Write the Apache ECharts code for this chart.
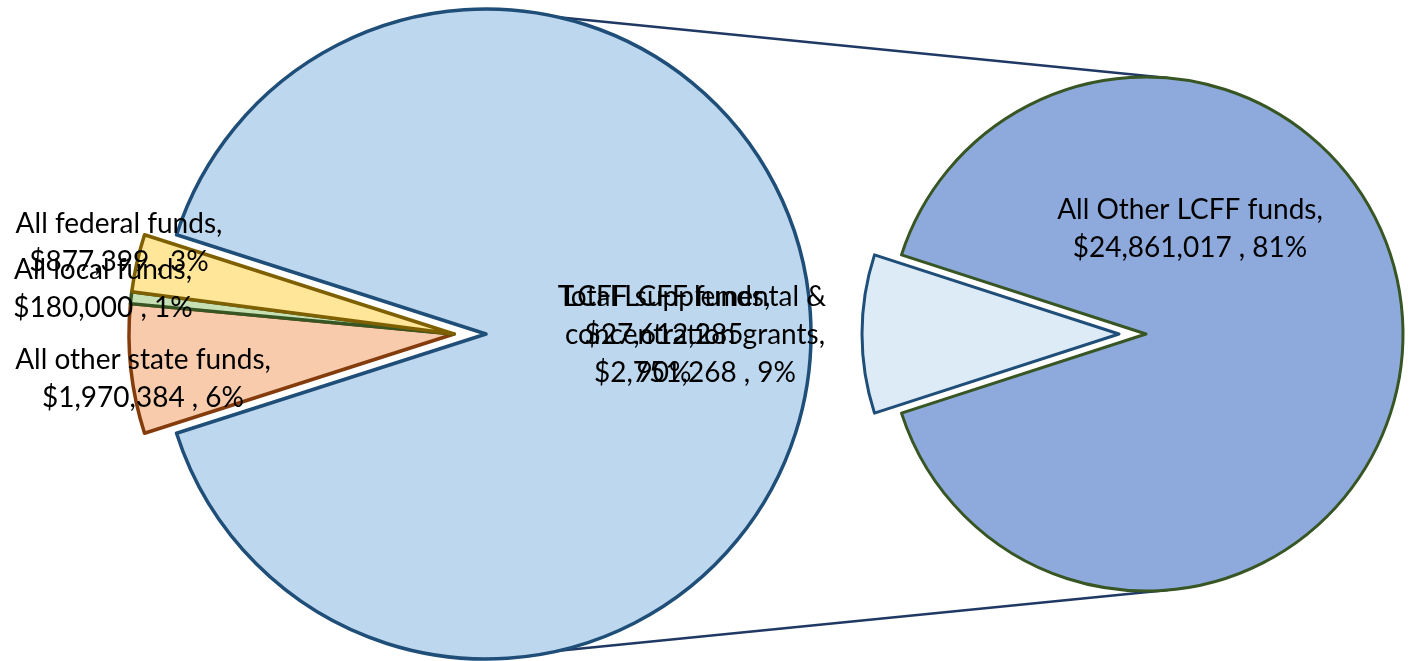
<!DOCTYPE html>
<html>
<head>
<meta charset="utf-8">
<script src="https://cdn.jsdelivr.net/npm/echarts@6/dist/echarts.min.js"></script>
<style>
html,body{margin:0;padding:0;background:#fff;}
#chart{width:1410px;height:661px;}
</style>
</head>
<body>
<div id="chart"></div>
<script>
// ---- data ----
const mainNames = ['Total LCFF funds', 'All other state funds', 'All local funds', 'All federal funds'];
const mainValues = [27612285, 1970384, 180000, 877399];
const splitNames = ['All Other LCFF funds', 'LCFF supplemental & concentration grants'];
const splitValues = [24861017, 2751268];

// ---- layout / style ----
const FONT = 'Lato';
const FS = 28;
const LH = 38;
const L = {cx: 486, cy: 334, r: 325, explode: 32};
const R = {cx: 1146, cy: 334, r: 257, explode: 27};
const colors = {
  'Total LCFF funds': ['#BDD7EE', '#1F4E79'],
  'All other state funds': ['#F8CBAD', '#843C0C'],
  'All local funds': ['#C6E0B4', '#375623'],
  'All federal funds': ['#FFE699', '#7F6000'],
  'All Other LCFF funds': ['#8EA9DB', '#375623'],
  'LCFF supplemental & concentration grants': ['#DDEBF7', '#1F4E79']
};
const labelPos = {
  'Total LCFF funds': [664, 335],
  'All other state funds': [143, 379],
  'All local funds': [103, 289],
  'All federal funds': [119, 243],
  'All Other LCFF funds': [1190, 229],
  'LCFF supplemental & concentration grants': [695, 335]
};

const grand = mainValues.reduce((a, b) => a + b, 0);
const smallSum = grand - mainValues[0];
const fmt = v => '$' + v.toLocaleString('en-US');
const pct = v => Math.round(v / grand * 100) + '%';
function labelText(name, v) {
  if (name === 'Total LCFF funds') return name + ',\n' + fmt(v) + '\n' + pct(v);
  if (name === 'LCFF supplemental & concentration grants')
    return 'LCFF supplemental &\nconcentration grants,\n' + fmt(v) + ' , ' + pct(v);
  return name + ',\n' + fmt(v) + ' , ' + pct(v);
}

const hidden = v => ({
  value: v, name: '_hidden',
  itemStyle: {color: 'rgba(0,0,0,0)', borderWidth: 0},
  label: {show: false}, emphasis: {disabled: true}
});
const item = (name, v, bw) => ({
  value: v, name: name,
  itemStyle: {color: colors[name][0], borderColor: colors[name][1], borderWidth: bw},
  label: {show: true, formatter: labelText(name, v)}
});

const leftStart = 180 - (smallSum / grand * 360) / 2;
const splitTotal = splitValues[0] + splitValues[1];
const rightStart = 180 - (splitValues[1] / splitTotal * 360) / 2;

const base = {
  type: 'pie', clockwise: true, silent: true, animation: false,
  avoidLabelOverlap: false,
  label: {position: 'inside', color: '#000', fontFamily: FONT, fontSize: FS, lineHeight: LH},
  labelLine: {show: false},
  emphasis: {disabled: true}
};
function layoutFor(names) {
  return function (p) {
    const nm = names[p.dataIndex];
    const pos = labelPos[nm];
    if (!pos) return {};
    return {x: pos[0], y: pos[1], align: 'center', verticalAlign: 'middle'};
  };
}

const series = [
  Object.assign({}, base, {
    center: [L.cx, L.cy], radius: L.r, startAngle: leftStart,
    data: [item(mainNames[0], mainValues[0], 3.5), hidden(smallSum)],
    labelLayout: layoutFor([mainNames[0], '_hidden'])
  }),
  Object.assign({}, base, {
    center: [L.cx - L.explode, L.cy], radius: L.r, startAngle: leftStart,
    data: [hidden(mainValues[0])].concat(mainNames.slice(1).map((n, i) => item(n, mainValues[i + 1], 3.5))),
    labelLayout: layoutFor(['_hidden'].concat(mainNames.slice(1)))
  }),
  Object.assign({}, base, {
    center: [R.cx, R.cy], radius: R.r, startAngle: rightStart,
    data: [item(splitNames[0], splitValues[0], 3), hidden(splitValues[1])],
    labelLayout: layoutFor([splitNames[0], '_hidden'])
  }),
  Object.assign({}, base, {
    center: [R.cx - R.explode, R.cy], radius: R.r, startAngle: rightStart,
    data: [hidden(splitValues[0]), item(splitNames[1], splitValues[1], 3)],
    labelLayout: layoutFor(['_hidden', splitNames[1]])
  })
];

const chart = echarts.init(document.getElementById('chart'), null, {renderer: 'canvas'});
chart.setOption({
  backgroundColor: '#fff',
  animation: false,
  graphic: [
    {type: 'line', z: -1, shape: {x1: L.cx, y1: L.cy - L.r + 1, x2: R.cx + 22, y2: R.cy - R.r + 1},
     style: {stroke: '#1F3864', lineWidth: 2.5}},
    {type: 'line', z: -1, shape: {x1: L.cx, y1: L.cy + L.r - 1, x2: R.cx + 22, y2: R.cy + R.r - 1},
     style: {stroke: '#1F3864', lineWidth: 2.5}}
  ],
  series: series
});
</script>
</body>
</html>
